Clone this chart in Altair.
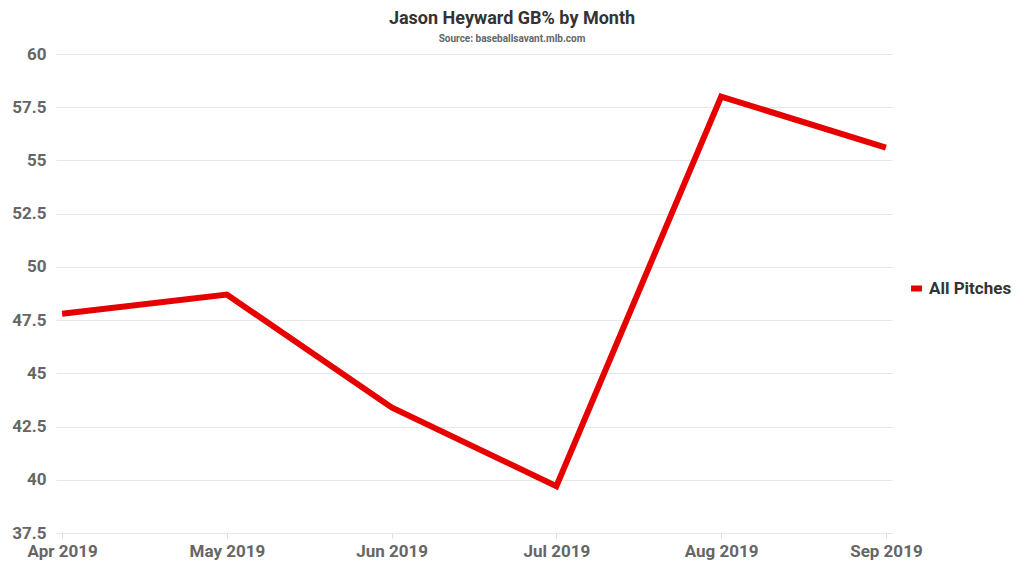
import altair as alt
import pandas as pd

months = ["Apr 2019", "May 2019", "Jun 2019", "Jul 2019", "Aug 2019", "Sep 2019"]
gb_pct = [47.8, 48.7, 43.4, 39.7, 58.0, 55.6]
series = ["All Pitches"] * len(months)
y_ticks = [37.5, 40, 42.5, 45, 47.5, 50, 52.5, 55, 57.5, 60]

df = pd.DataFrame({"month": months, "gb": gb_pct, "series": series})

chart = alt.Chart(df).mark_line(strokeWidth=6, strokeCap="butt", strokeJoin="miter").encode(
    x=alt.X("month:O", sort=months, title=None,
            scale=alt.Scale(type="point", padding=0.037),
            axis=alt.Axis(labelAngle=0, labelFont="Roboto", labelFontWeight="bold",
                          labelFontSize=17, labelColor="#666666", labelPadding=5,
                          tickColor="#dddddd", tickSize=5, domain=False, grid=False)),
    y=alt.Y("gb:Q", title=None,
            scale=alt.Scale(domain=[37.5, 60], nice=False, zero=False),
            axis=alt.Axis(values=y_ticks, format=".1~f",
                          labelFont="Roboto", labelFontWeight="bold", labelFontSize=17,
                          labelColor="#666666", labelPadding=10, ticks=False, domain=False,
                          gridColor="#e6e6e6", gridWidth=1)),
    color=alt.Color("series:N", title=None,
                    scale=alt.Scale(range=["#e60000"]),
                    legend=alt.Legend(orient="none", legendX=852, legendY=226,
                                      symbolType="stroke", symbolStrokeWidth=6,
                                      symbolSize=120, labelFont="Roboto",
                                      labelFontWeight="bold", labelFontSize=17,
                                      labelColor="#333333", labelOffset=4)),
).properties(
    width=836, height=479,
    padding={"left": 48, "top": 46, "right": 124, "bottom": 35},
    autosize=alt.AutoSizeParams(type="none"),
    title=alt.TitleParams(
        text="Jason Heyward GB% by Month",
        subtitle="Source: baseballsavant.mlb.com",
        font="Roboto", fontSize=18, fontWeight="bold", color="#333333",
        subtitleFont="Roboto", subtitleFontSize=10, subtitleFontWeight="bold",
        subtitleColor="#666666", subtitlePadding=6,
        anchor="middle", dx=38, offset=1,
    ),
).configure(
    background="white",
    view=alt.ViewConfig(strokeWidth=0, stroke="transparent"),
)

chart.save("out.html", embed_options={"renderer": "svg", "actions": False})
